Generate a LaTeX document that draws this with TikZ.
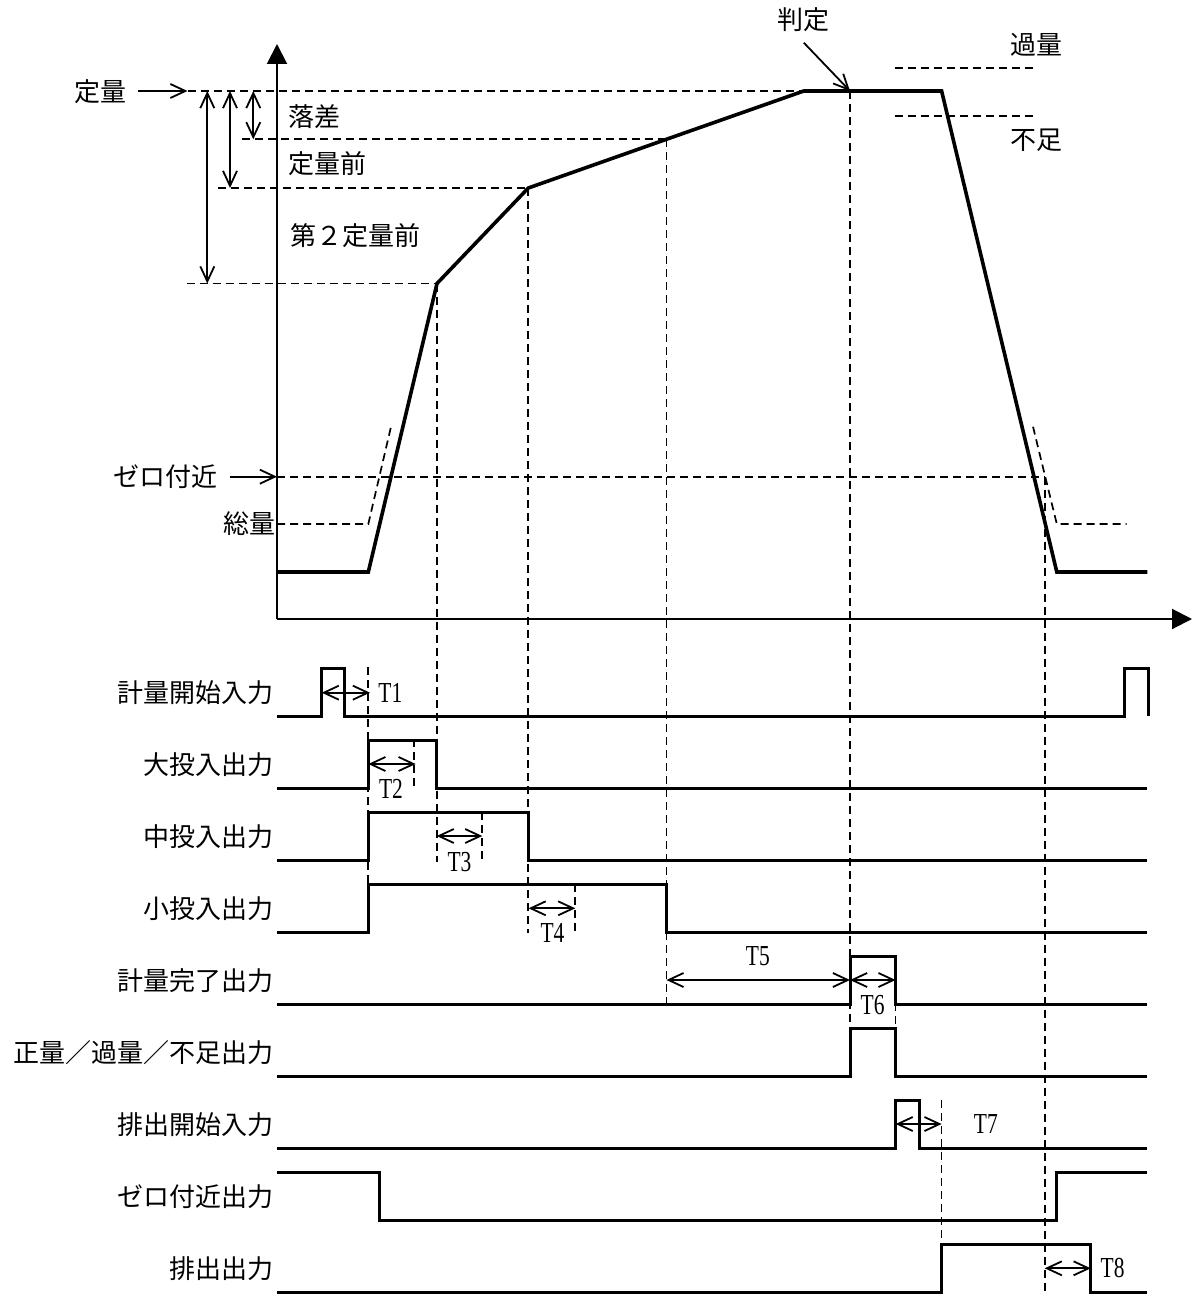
\documentclass[tikz,border=0pt]{standalone}
\usepackage{fontspec}
\newfontfamily\jpfont{Noto Sans CJK JP}
\newfontfamily\tfont[FakeStretch=0.74]{Liberation Serif}
\usetikzlibrary{arrows.meta}
\begin{document}
\begin{tikzpicture}[x=0.5pt,y=-0.5pt,
  jl/.style={font=\jpfont\fontsize{13}{15}\selectfont, inner sep=0pt},
  tl/.style={font=\tfont\fontsize{14.5}{16}\selectfont, inner sep=0pt},
  sig/.style={line width=1.5pt, line join=miter},
  wcurve/.style={line width=1.8pt, line join=miter},
  ax/.style={line width=1pt},
  dsh/.style={line width=0.85pt, dash pattern=on 4pt off 2.5pt},
  dimarrow/.style={line width=0.9pt, {Straight Barb[length=7.5pt,width=7pt]}-{Straight Barb[length=7.5pt,width=7pt]}},
  ptr/.style={line width=0.9pt, -{Straight Barb[length=7.5pt,width=7pt]}},
  axarrow/.style={ax, -{Triangle[length=10pt,width=10pt]}},
]
\useasboundingbox (0,0) rectangle (1192,1295);

% ---------- key coordinates ----------
\coordinate (O) at (277,619);
\coordinate (Ytop) at (277,44);
\coordinate (Xend) at (1192,619);
\coordinate (C0) at (277,572);
\coordinate (C1) at (368.3,572);
\coordinate (C2) at (437,283.5);
\coordinate (C3) at (528.3,188);
\coordinate (C4) at (666.4,139.3);
\coordinate (C5) at (803.8,91);
\coordinate (C6) at (850,91);
\coordinate (C7) at (941.6,91);
\coordinate (C8) at (1056.8,572);
\coordinate (C9) at (1147.4,572);

% ---------- axes ----------
\draw[axarrow] (O) -- (Ytop);
\draw[axarrow] (O) -- (Xend);

% ---------- horizontal dashed levels ----------
\draw[dsh] (188,91) -- (C5);
\draw[dsh] (241.7,139.3) -- (C4);
\draw[dsh] (218,188) -- (C3);
\draw[dsh] (186.7,283.5) -- (C2);
\draw[dsh] (277,476.7) -- (1044.7,476.7);
\draw[dsh] (277,524) -- (368.3,524) -- (391,426.7);
\draw[dsh] (1033,426.7) -- (1056.8,524) -- (1126.6,524);
\draw[dsh] (894.5,67.7) -- (1034,67.7);
\draw[dsh] (894.5,115.7) -- (1034,115.7);

% ---------- vertical dashed lines ----------
\draw[dsh] (C2) -- (437,862);
\draw[dsh] (C3) -- (528.3,933);
\draw[dsh] (C4) -- (666.4,1003);
\draw[dsh] (C6) -- (850,1028);
\draw[dsh] (895.6,1003) -- (895.6,1028);
\draw[dsh] (368.3,667) -- (368.3,884);
\draw[dsh] (414,739) -- (414,788);
\draw[dsh] (482.3,812) -- (482.3,862);
\draw[dsh] (575.3,884) -- (575.3,933);
\draw[dsh] (941.6,1100) -- (941.6,1244);
\draw[dsh] (1044.7,476.7) -- (1044.7,1295);

% ---------- weight curve ----------
\draw[wcurve] (C0) -- (C1) -- (C2) -- (C3) -- (C4) -- (C5) -- (C6) -- (C7) -- (C8) -- (C9);

% ---------- top labels ----------
\node[jl, anchor=east] (lteiryo) at (127,92) {定量};
\coordinate (lteiryoA) at (187.5,91);
\draw[ptr] (138,91) -- (lteiryoA);
\node[jl, anchor=west] (lrakusa) at (288,117) {落差};
\node[jl, anchor=west] (lmae) at (288,164) {定量前};
\node[jl, anchor=west] (lmae2) at (290,236) {第２定量前};
\node[jl, anchor=east] (lzero) at (218,477) {ゼロ付近};
\coordinate (lzeroA) at (277,476.7);
\draw[ptr] (230,476.7) -- (lzeroA);
\node[jl, anchor=east] (lsoryo) at (276,524) {総量};
\node[jl] (lhantei) at (803,20) {判定};
\draw[ptr] (803.8,42.7) -- (C6);
\node[jl, anchor=west] (lkaryo) at (1010,45) {過量};
\node[jl, anchor=west] (lfusoku) at (1010,140) {不足};

% ---------- dimension arrows ----------
\draw[dimarrow] (207.3,91) -- (207.3,283.5);
\draw[dimarrow] (230,91) -- (230,188);
\draw[dimarrow] (253.3,91) -- (253.3,139.3);

% ---------- signal labels ----------
\node[jl, anchor=east] (s0) at (274,692.5) {計量開始入力};
\node[jl, anchor=east] (s1) at (274,764.5) {大投入出力};
\node[jl, anchor=east] (s2) at (274,836.5) {中投入出力};
\node[jl, anchor=east] (s3) at (274,908.5) {小投入出力};
\node[jl, anchor=east] (s4) at (274,980.5) {計量完了出力};
\node[jl, anchor=east] (s5) at (274,1052.5) {正量／過量／不足出力};
\node[jl, anchor=east] (s6) at (274,1124.5) {排出開始入力};
\node[jl, anchor=east] (s7) at (274,1196.5) {ゼロ付近出力};
\node[jl, anchor=east] (s8) at (274,1268.5) {排出出力};

% ---------- signals ----------
\draw[sig] (277,716) -- (321.7,716) -- (321.7,668) -- (344.8,668) -- (344.8,716) -- (1124.7,716) -- (1124.7,668) -- (1148.5,668) -- (1148.5,716);
\draw[sig] (277,788) -- (368.3,788) -- (368.3,740) -- (436.7,740) -- (436.7,788) -- (1147.4,788);
\draw[sig] (277,860) -- (368.3,860) -- (368.3,812) -- (528.6,812) -- (528.6,860) -- (1147.4,860);
\draw[sig] (277,932) -- (368.3,932) -- (368.3,884) -- (666.4,884) -- (666.4,932) -- (1147.4,932);
\draw[sig] (277,1004) -- (850,1004) -- (850,956) -- (895.6,956) -- (895.6,1004) -- (1147.4,1004);
\draw[sig] (277,1076) -- (850,1076) -- (850,1028) -- (895.6,1028) -- (895.6,1076) -- (1147.4,1076);
\draw[sig] (277,1148) -- (895.6,1148) -- (895.6,1100) -- (919,1100) -- (919,1148) -- (1147.4,1148);
\draw[sig] (277,1172) -- (379.5,1172) -- (379.5,1220) -- (1056.8,1220) -- (1056.8,1172) -- (1147.4,1172);
\draw[sig] (277,1292) -- (941.6,1292) -- (941.6,1244) -- (1090.7,1244) -- (1090.7,1292) -- (1147.4,1292);

% ---------- timing arrows and labels ----------
\draw[dimarrow] (321.7,692.7) -- (370,692.7);
\node[tl, anchor=west] (t1) at (378,692.7) {T1};
\draw[dimarrow] (368.3,764) -- (415.7,764);
\node[tl] (t2) at (391,789) {T2};
\draw[dimarrow] (436.7,836) -- (482.3,836);
\node[tl] (t3) at (459.5,861.7) {T3};
\draw[dimarrow] (528.6,908.3) -- (575.3,908.3);
\node[tl] (t4) at (552.5,933) {T4};
\draw[dimarrow] (666.4,980) -- (850,980);
\node[tl] (t5) at (757.8,956) {T5};
\draw[dimarrow] (850,980) -- (895.6,980);
\node[tl] (t6) at (872.6,1005) {T6};
\draw[dimarrow] (895.6,1124) -- (941.6,1124);
\node[tl] (t7) at (985.8,1124) {T7};
\draw[dimarrow] (1044.7,1268.3) -- (1090.7,1268.3);
\node[tl] (t8) at (1112.6,1268) {T8};

\end{tikzpicture}
\end{document}
